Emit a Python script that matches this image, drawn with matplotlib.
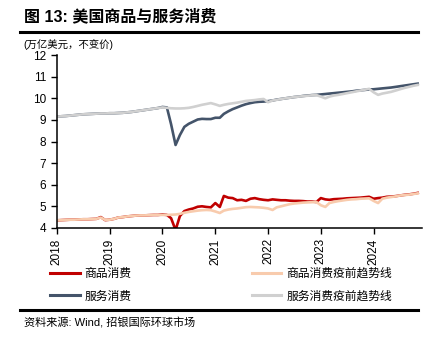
import matplotlib
matplotlib.use('Agg')
import matplotlib.pyplot as plt
import pandas as pd
from matplotlib.lines import Line2D

plt.rcParams['font.family'] = ['Liberation Sans', 'Noto Sans CJK SC', 'DejaVu Sans']

# === Data (trillion USD, constant prices), monthly Jan 2018 - Nov 2024 ===
dates = pd.date_range('2018-01-01', periods=83, freq='MS')

goods = [
    4.35, 4.36, 4.37, 4.38, 4.38, 4.39, 4.40, 4.40, 4.41, 4.42, 4.50, 4.36,
    4.38, 4.42, 4.48, 4.50, 4.53, 4.55, 4.57, 4.58, 4.58, 4.59, 4.60, 4.60,
    4.62, 4.60, 4.45, 3.90, 4.55, 4.78, 4.85, 4.90, 4.98, 5.00, 4.97, 4.95,
    5.15, 4.97, 5.48, 5.40, 5.38, 5.28, 5.30, 5.25, 5.35, 5.38, 5.33, 5.30,
    5.28, 5.32, 5.30, 5.28, 5.28, 5.26, 5.25, 5.25, 5.24, 5.22, 5.22, 5.20,
    5.38, 5.32, 5.30, 5.33, 5.34, 5.35, 5.37, 5.38, 5.39, 5.40, 5.42, 5.44,
    5.35, 5.38, 5.40, 5.44, 5.45, 5.47, 5.50, 5.53, 5.55, 5.58, 5.62,
]
goods_trend = [
    4.35, 4.36, 4.37, 4.38, 4.38, 4.39, 4.40, 4.40, 4.41, 4.42, 4.48, 4.37,
    4.38, 4.42, 4.48, 4.50, 4.53, 4.55, 4.57, 4.58, 4.58, 4.59, 4.60, 4.60,
    4.60, 4.60, 4.61, 4.62, 4.65, 4.70, 4.74, 4.77, 4.80, 4.82, 4.83, 4.82,
    4.76, 4.69, 4.80, 4.85, 4.88, 4.90, 4.93, 4.96, 4.97, 4.96, 4.95, 4.93,
    4.90, 4.83, 4.95, 5.00, 5.05, 5.10, 5.13, 5.15, 5.17, 5.18, 5.19, 5.20,
    5.05, 4.97, 5.15, 5.20, 5.24, 5.27, 5.30, 5.32, 5.33, 5.35, 5.36, 5.37,
    5.25, 5.15, 5.35, 5.40, 5.43, 5.46, 5.50, 5.52, 5.54, 5.57, 5.60,
]
services = [
    9.15, 9.17, 9.18, 9.20, 9.22, 9.24, 9.26, 9.27, 9.28, 9.29, 9.30, 9.30,
    9.31, 9.31, 9.32, 9.33, 9.35, 9.37, 9.40, 9.43, 9.46, 9.49, 9.52, 9.55,
    9.60, 9.58, 8.80, 7.84, 8.30, 8.68, 8.82, 8.92, 9.02, 9.05, 9.04, 9.04,
    9.10, 9.10, 9.28, 9.40, 9.50, 9.58, 9.66, 9.73, 9.78, 9.82, 9.84, 9.85,
    9.87, 9.90, 9.94, 9.97, 10.00, 10.03, 10.06, 10.08, 10.11, 10.13, 10.15, 10.16,
    10.18, 10.20, 10.22, 10.24, 10.26, 10.28, 10.30, 10.32, 10.35, 10.37, 10.39, 10.41,
    10.42, 10.44, 10.46, 10.48, 10.50, 10.53, 10.56, 10.59, 10.62, 10.65, 10.68,
]
services_trend = [
    9.15, 9.17, 9.18, 9.20, 9.22, 9.24, 9.26, 9.27, 9.28, 9.29, 9.30, 9.30,
    9.31, 9.31, 9.32, 9.33, 9.35, 9.37, 9.40, 9.43, 9.46, 9.49, 9.52, 9.55,
    9.58, 9.56, 9.54, 9.53, 9.53, 9.54, 9.56, 9.60, 9.65, 9.70, 9.74, 9.78,
    9.72, 9.65, 9.70, 9.74, 9.77, 9.80, 9.84, 9.88, 9.90, 9.92, 9.95, 9.97,
    9.82, 9.90, 9.93, 9.97, 10.00, 10.03, 10.06, 10.08, 10.10, 10.12, 10.14, 10.15,
    10.08, 10.00, 10.08, 10.13, 10.16, 10.20, 10.24, 10.28, 10.32, 10.36, 10.40, 10.44,
    10.28, 10.16, 10.22, 10.26, 10.30, 10.36, 10.42, 10.48, 10.53, 10.58, 10.62,
]
years = [2018, 2019, 2020, 2021, 2022, 2023, 2024]
yticks = [4, 5, 6, 7, 8, 9, 10, 11, 12]

labels = ['商品消费', '服务消费', '商品消费疫前趋势线', '服务消费疫前趋势线']
colors = ['#C00000', '#44546A', '#F8CBAD', '#D0D0D0']

fig = plt.figure(figsize=(4.41, 3.49), dpi=100)
ax = fig.add_axes([0.129, 0.347, 0.828, 0.495])

ax.plot(dates, services, color=colors[1], lw=1.9)
ax.plot(dates, services_trend, color=colors[3], lw=1.9)
ax.plot(dates, goods, color=colors[0], lw=1.9)
ax.plot(dates, goods_trend, color=colors[2], lw=1.9)

ax.set_ylim(4, 12)
ax.set_yticks(yticks)
ax.set_xlim(dates[0], pd.Timestamp('2024-12-01'))
ax.set_xticks([pd.Timestamp(f'{y}-01-01') for y in years])
ax.set_xticklabels([str(y) for y in years], rotation=90)
ax.tick_params(labelsize=8.5, length=4, width=1, colors='black')
for s in ['top', 'right']:
    ax.spines[s].set_visible(False)
for s in ['left', 'bottom']:
    ax.spines[s].set_linewidth(1.1)

# Legend (two columns)
handles = [Line2D([], [], color=c, lw=2.2) for c in colors]
fig.legend(handles, labels, ncol=2, loc='upper left', bbox_to_anchor=(0.09, 0.263),
           frameon=False, fontsize=8.5, handlelength=2.5, columnspacing=10.2,
           labelspacing=0.9, handletextpad=0.4)

# Title, unit, rules and source
fig.text(0.054, 0.952, '图 13: 美国商品与服务消费', fontsize=11.5, fontweight='bold',
         va='center', ha='left')
fig.add_artist(Line2D([0.045, 0.948], [0.908, 0.908], color='black', lw=2.2))
fig.text(0.054, 0.873, '(万亿美元，不变价)', fontsize=7.5, va='center', ha='left')
fig.add_artist(Line2D([0.045, 0.948], [0.112, 0.112], color='black', lw=2.2))
fig.text(0.054, 0.075, '资料来源: Wind, 招银国际环球市场', fontsize=8, va='center', ha='left')

plt.savefig('out.png', dpi=100)
plt.close()
